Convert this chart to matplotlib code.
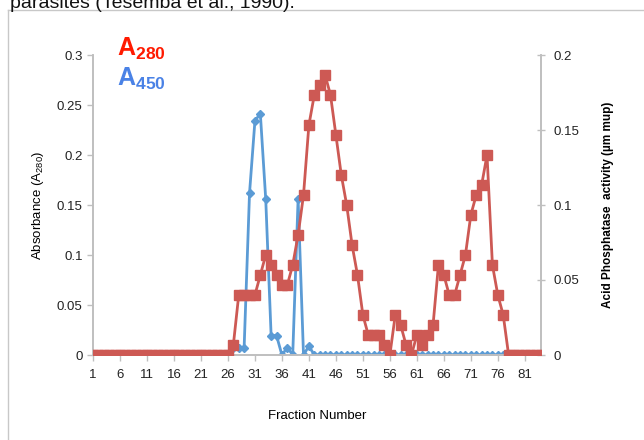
import matplotlib
matplotlib.use("Agg")
import matplotlib.pyplot as plt
from matplotlib.lines import Line2D
import numpy as np

plt.rcParams['font.family'] = ['Liberation Sans', 'DejaVu Sans']
plt.rcParams['mathtext.fontset'] = 'custom'
plt.rcParams['mathtext.rm'] = 'Liberation Sans'
plt.rcParams['mathtext.bf'] = 'Liberation Sans:bold'

fractions = np.arange(1, 85)

# A280, left axis units
a280 = [0.0] * 26 + [
    0.01, 0.06, 0.06, 0.06, 0.06, 0.08, 0.10, 0.09, 0.08, 0.07,
    0.07, 0.09, 0.12, 0.16, 0.23, 0.26, 0.27, 0.28, 0.26, 0.22,
    0.18, 0.15, 0.11, 0.08, 0.04, 0.02, 0.02, 0.02, 0.01, 0.0,
    0.04, 0.03, 0.01, 0.0, 0.02, 0.01, 0.02, 0.03, 0.09, 0.08,
    0.06, 0.06, 0.08, 0.10, 0.14, 0.16, 0.17, 0.20, 0.09, 0.06,
    0.04] + [0.0] * 7

# A450 / acid phosphatase, right axis units
a450 = [0.0] * 26 + [
    0.005, 0.005, 0.005, 0.108, 0.156, 0.161, 0.104, 0.013, 0.013, 0.0,
    0.005, 0.0, 0.104, 0.0, 0.006] + [0.0] * 43

xtick_pos = np.arange(1, 85, 5)

red = '#cd5954'
blue = '#5b9bd5'
grey = '#bfbfbf'

fig = plt.figure(figsize=(6.44, 4.4), dpi=100)
ax = fig.add_axes([93/644, 1-355/440, (541-93)/644, 300/440])
ax2 = ax.twinx()
ax.set_zorder(ax2.get_zorder() + 1)
ax.patch.set_visible(False)

ax2.plot(fractions, a450, color=blue, lw=2, marker='D', ms=4.2, zorder=2)
ax.plot(fractions, a280, color=red, lw=2, marker='s', ms=6.5, zorder=3)

ax.set_xlim(1, 84)
ax.set_ylim(0, 0.3)
ax2.set_ylim(0, 0.2)
ax.set_yticks([0, 0.05, 0.1, 0.15, 0.2, 0.25, 0.3])
ax.set_yticklabels(['0', '0.05', '0.1', '0.15', '0.2', '0.25', '0.3'])
ax2.set_yticks([0, 0.05, 0.1, 0.15, 0.2])
ax2.set_yticklabels(['0', '0.05', '0.1', '0.15', '0.2'])
ax.set_xticks(xtick_pos)
ax.set_xticklabels([str(v) for v in xtick_pos])

for a in (ax, ax2):
    a.spines['top'].set_visible(False)
    for s in ('left', 'right', 'bottom'):
        a.spines[s].set_color(grey)
        a.spines[s].set_linewidth(1.2)
ax.tick_params(axis='both', colors=grey, labelcolor='#222222', labelsize=9.5, length=4, width=1)
ax.tick_params(axis='x', pad=6)
ax2.tick_params(axis='y', colors=grey, labelcolor='#222222', labelsize=9.5, length=6, width=1,
                direction='inout', pad=6)

ax.set_xlabel('Fraction Number', fontsize=9.5, labelpad=21)
ax.set_ylabel('Absorbance (A$\\mathregular{_{280}}$)', fontsize=9.5, labelpad=8)
ax2.set_ylabel('Acid Phosphatase  activity (\u00b5m mup)', fontsize=8.5, fontweight='bold',
               family=['Liberation Sans Narrow', 'Liberation Sans'], rotation=90, labelpad=16)

fig.text(117/644, 1-56/440, '$\\mathbf{A}_{\\mathbf{280}}$', color='#ff1a00', fontsize=18)
fig.text(117/644, 1-86/440, '$\\mathbf{A}_{\\mathbf{450}}$', color='#4a82e6', fontsize=18)

# page frame and cut-off caption line
fig.add_artist(Line2D([8/644, 8/644], [0, 1-10/440], color='#c8c8c8', lw=1))
fig.add_artist(Line2D([8/644, 1], [1-10/440, 1-10/440], color='#c8c8c8', lw=1))
fig.text(10/644, 1-4/440, 'parasites (Tesemba et al., 1990).', fontsize=14, va='center', color='#111111')

fig.savefig('out.png', dpi=100)
